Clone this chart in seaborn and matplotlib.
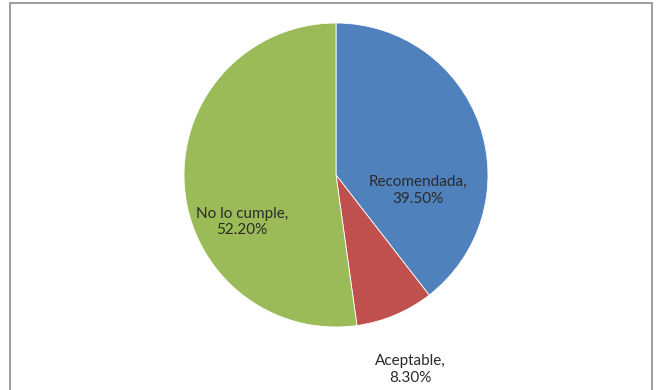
import matplotlib
matplotlib.use("Agg")
import matplotlib.pyplot as plt
import matplotlib.patches as mpatches
import seaborn as sns

categories = ["Recomendada", "Aceptable", "No lo cumple"]
values = [39.5, 8.3, 52.2]
colors = ["#4F81BD", "#C0504D", "#9BBB59"]

sns.set_theme(style="white")
plt.rcParams['font.family'] = ['Lato', 'DejaVu Sans']

W, H = 660, 390
fig = plt.figure(figsize=(W / 100, H / 100), dpi=100)
fig.patch.set_facecolor("white")

cx, cy, r = 336, 175, 152
ax = fig.add_axes([(cx - r) / W, (H - cy - r) / H, 2 * r / W, 2 * r / H])
ax.pie(values, colors=colors, startangle=90, counterclock=False, radius=1.0,
       wedgeprops=dict(linewidth=0.6, edgecolor="white"))
ax.set_xlim(-1, 1)
ax.set_ylim(-1, 1)
ax.set_aspect("equal")
ax.axis("off")

label_pos = [(0.54, -0.10), (0.49, -1.28), (-0.62, -0.31)]
for cat, v, (lx, ly) in zip(categories, values, label_pos):
    ax.text(lx, ly, f"{cat},\n{v:.2f}%", ha="center", va="center",
            fontsize=11, color="#2a2a2a", linespacing=1.25, clip_on=False)

border = mpatches.Rectangle((10 / W, -0.05), 642 / W, (H - 3) / H + 0.05,
                            transform=fig.transFigure, fill=False,
                            edgecolor="#8C8C8C", linewidth=1.2, clip_on=False)
fig.patches.append(border)

fig.savefig("out.png", dpi=100, facecolor="white")
